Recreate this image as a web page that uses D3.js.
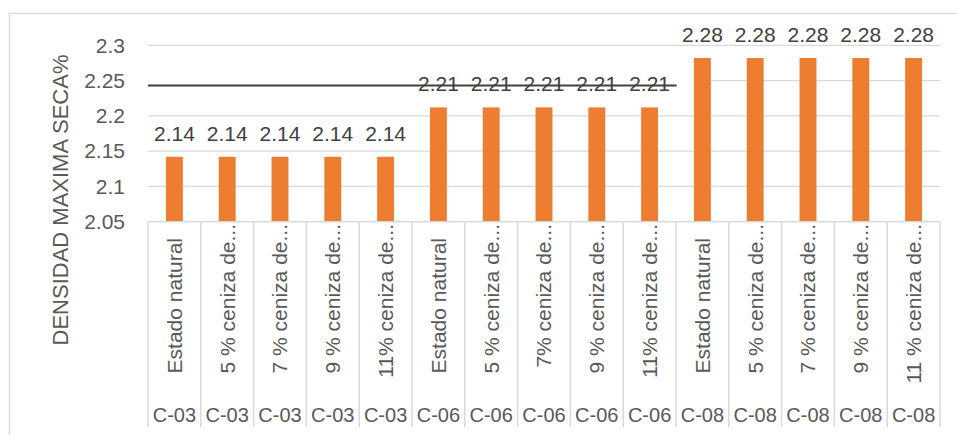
<!DOCTYPE html>
<html>
<head>
<meta charset="utf-8">
<script src="https://cdn.jsdelivr.net/npm/d3@7"></script>
<style>
  html, body { margin: 0; padding: 0; background: #fff; }
  svg { display: block; font-family: "Liberation Sans", Arial, sans-serif; }
</style>
</head>
<body>
<svg id="chart" width="957" height="435"></svg>
<script>
// ---- data ----
const groups = ["C-03","C-03","C-03","C-03","C-03","C-06","C-06","C-06","C-06","C-06","C-08","C-08","C-08","C-08","C-08"];
const conditions = ["Estado natural","5 % ceniza de...","7 % ceniza de...","9 % ceniza de...","11% ceniza de...",
                    "Estado natural","5 % ceniza de...","7% ceniza de...","9 % ceniza de...","11% ceniza de...",
                    "Estado natural","5 % ceniza de...","7 % ceniza de...","9 % ceniza de...","11 % ceniza de..."];
const values = [2.142,2.142,2.142,2.142,2.142,2.212,2.212,2.212,2.212,2.212,2.282,2.282,2.282,2.282,2.282];
const yTicks = [2.05, 2.1, 2.15, 2.2, 2.25, 2.3];
const yTitle = "DENSIDAD MAXIMA SECA%";
const refLineValue = 2.243;     // drawn horizontal line
const refLineEndIndex = 9;      // line spans categories 0..9

// ---- layout ----
const svg = d3.select("#chart");
const plot = { left: 148, right: 940, top: 45.3, bottom: 221.7 };
const axisBottom = 427;
const idx = d3.range(values.length);

const x = d3.scaleBand().domain(idx).range([plot.left, plot.right]).paddingInner(0).paddingOuter(0);
const y = d3.scaleLinear().domain([2.05, 2.3]).range([plot.bottom, plot.top]);
const barW = x.bandwidth() * 0.32;

const gray = "#d9d9d9", txt = "#595959", dark = "#404040", orange = "#ED7D31";

// outer chart border
svg.append("rect").attr("x", 9.5).attr("y", 13.5).attr("width", 1000).attr("height", 1000)
  .attr("fill", "none").attr("stroke", gray).attr("stroke-width", 1.3);

// gridlines
svg.append("g").selectAll("line").data(yTicks).join("line")
  .attr("x1", plot.left).attr("x2", plot.right)
  .attr("y1", d => y(d)).attr("y2", d => y(d))
  .attr("stroke", gray).attr("stroke-width", 1.3);

// white cover behind the drawn line (hides 2.25 gridline in reference)
const coverEnd = x(refLineEndIndex + 1) + (x.bandwidth() - barW) / 2;
svg.append("rect").attr("x", plot.left).attr("y", y(2.25) - 3)
  .attr("width", coverEnd - plot.left).attr("height", 6).attr("fill", "#fff");

// y tick labels
svg.append("g").selectAll("text").data(yTicks).join("text")
  .attr("x", 125).attr("y", d => y(d)).attr("dy", "0.35em")
  .attr("text-anchor", "end").attr("fill", txt).attr("font-size", 21)
  .text(d => d3.format("")(+d.toFixed(2)));

// y title
svg.append("text")
  .attr("transform", `translate(${68},${200}) rotate(-90)`)
  .attr("text-anchor", "middle").attr("fill", txt).attr("font-size", 22)
  .text(yTitle);

// bars
svg.append("g").selectAll("rect").data(idx).join("rect")
  .attr("x", i => x(i) + (x.bandwidth() - barW) / 2)
  .attr("width", barW)
  .attr("y", i => y(values[i]))
  .attr("height", i => y(2.05) - y(values[i]))
  .attr("fill", orange);

// data labels
svg.append("g").selectAll("text").data(idx).join("text")
  .attr("x", i => x(i) + x.bandwidth() / 2)
  .attr("y", i => y(values[i]) - 16)
  .attr("text-anchor", "middle").attr("fill", dark).attr("font-size", 21)
  .text(i => d3.format(".2f")(values[i]));

// drawn reference line
svg.append("line")
  .attr("x1", plot.left).attr("x2", x(refLineEndIndex) + x.bandwidth() / 2 + 27)
  .attr("y1", y(refLineValue)).attr("y2", y(refLineValue))
  .attr("stroke", dark).attr("stroke-width", 2);

// category axis: baseline + separators
svg.append("line").attr("x1", plot.left).attr("x2", plot.right)
  .attr("y1", plot.bottom).attr("y2", plot.bottom).attr("stroke", gray).attr("stroke-width", 1.3);
svg.append("g").selectAll("line").data(d3.range(values.length + 1)).join("line")
  .attr("x1", i => i < values.length ? x(i) : plot.right)
  .attr("x2", i => i < values.length ? x(i) : plot.right)
  .attr("y1", plot.bottom).attr("y2", axisBottom)
  .attr("stroke", gray).attr("stroke-width", 1.5);

// inner category labels (rotated)
svg.append("g").selectAll("text").data(idx).join("text")
  .attr("transform", i => {
    const truncated = conditions[i].endsWith("...");
    return `translate(${x(i) + x.bandwidth() / 2},${truncated ? 224 : 238}) rotate(-90)`;
  })
  .attr("dy", "0.35em")
  .attr("text-anchor", "end").attr("fill", txt).attr("font-size", 21)
  .text(i => conditions[i]);

// outer group labels
svg.append("g").selectAll("text").data(idx).join("text")
  .attr("x", i => x(i) + x.bandwidth() / 2).attr("y", 422)
  .attr("text-anchor", "middle").attr("fill", txt).attr("font-size", 20)
  .text(i => groups[i]);
</script>
</body>
</html>
